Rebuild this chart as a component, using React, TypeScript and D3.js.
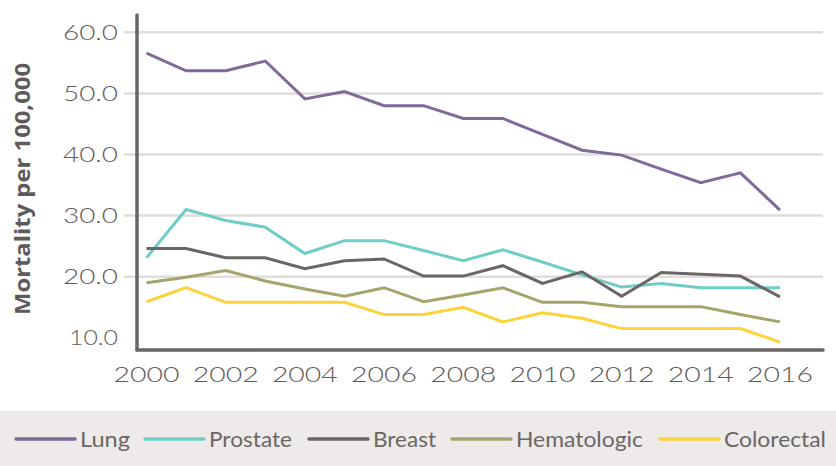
import React from 'react';
import * as d3 from 'd3';

// mortality per 100,000, 2000-2016
const years = d3.range(2000, 2017);
const lung = [56.6, 53.7, 53.7, 55.3, 49.1, 50.3, 48.0, 48.0, 45.9, 45.9, 43.3, 40.7, 39.9, 37.6, 35.4, 37.0, 30.9];
const prostate = [23.1, 31.0, 29.2, 28.1, 23.8, 25.9, 25.9, 24.3, 22.6, 24.4, 22.4, 20.3, 18.3, 18.9, 18.2, 18.2, 18.2];
const breast = [24.6, 24.6, 23.1, 23.1, 21.3, 22.6, 22.9, 20.1, 20.1, 21.8, 18.9, 20.8, 16.8, 20.7, 20.4, 20.1, 16.7];
const hematologic = [19.0, 19.9, 21.0, 19.3, 18.0, 16.8, 18.2, 15.9, 17.0, 18.2, 15.8, 15.8, 15.1, 15.1, 15.1, 13.8, 12.6];
const colorectal = [15.9, 18.2, 15.8, 15.8, 15.8, 15.8, 13.8, 13.8, 15.0, 12.6, 14.1, 13.2, 11.5, 11.5, 11.5, 11.5, 9.3];

const seriesNames = ['Lung', 'Prostate', 'Breast', 'Hematologic', 'Colorectal'];
const seriesValues = [lung, prostate, breast, hematologic, colorectal];
const colors = ['#7f6a9b', '#6fcdc8', '#6b6666', '#a4a56b', '#fdd23b'];
const yTicks = [10, 20, 30, 40, 50, 60];
const xTicks = [2000, 2002, 2004, 2006, 2008, 2010, 2012, 2014, 2016];

const W = 836;
const H = 466;
const axisX = 137;
const axisY = 350;

export default function App() {
  const x = d3.scaleLinear().domain([2000, 2016]).range([146.5, 780]);
  const y = d3.scaleLinear().domain([8, 63]).range([350, 14]);

  const line = d3.line<number>()
    .x((d, i) => x(years[i]))
    .y(d => y(d));

  const tickFont = 'Lato, "Open Sans", sans-serif';
  const legendPos = [16, 145, 309, 452, 660];
  const legendLen = [50, 83, 63, 127, 102];

  return (
    <svg width={W} height={H} style={{position: 'absolute', left: 0, top: 0}}>
      <rect x={0} y={0} width={W} height={H} fill="#ffffff" />

      {/* gridlines */}
      {yTicks.filter(t => t > 10).map(t => (
        <line key={t} x1={124} x2={823} y1={y(t)} y2={y(t)} stroke="#e0dcdc" strokeWidth={2.5} />
      ))}

      {/* y tick labels */}
      {yTicks.map(t => (
        <text key={t} x={t === 10 ? 69 : 63} y={y(t)} dy="0.35em" fontFamily={tickFont}
              textLength={t === 10 ? 49 : 55} lengthAdjust="spacingAndGlyphs"
              fontWeight={300} fontSize={22} fill="#5e5a5b">{d3.format('.1f')(t)}</text>
      ))}

      {/* x tick labels */}
      {xTicks.map(t => (
        <text key={t} x={x(t) - 33} y={374.5} dy="0.35em" fontFamily={tickFont}
              textLength={66} lengthAdjust="spacingAndGlyphs"
              fontWeight={300} fontSize={22} fill="#5e5a5b">{t}</text>
      ))}

      {/* series */}
      {seriesValues.map((vals, i) => (
        <path key={seriesNames[i]} d={line(vals) || ''} fill="none" stroke={colors[i]}
              strokeWidth={3} strokeLinejoin="miter" />
      ))}

      {/* axes */}
      <line x1={axisX} x2={axisX} y1={15} y2={axisY} stroke="#6b6666" strokeWidth={3.5} strokeLinecap="round" />
      <line x1={axisX} x2={823} y1={axisY} y2={axisY} stroke="#6b6666" strokeWidth={3.5} strokeLinecap="round" />

      {/* y axis title */}
      <text transform={`translate(22,${(63 + 315) / 2}) rotate(-90)`} textAnchor="middle" dy="0.35em"
            textLength={252} lengthAdjust="spacingAndGlyphs"
            fontFamily='"Open Sans", sans-serif' fontWeight={700} fontSize={22} fill="#5e5a5b">
        Mortality per 100,000
      </text>

      {/* legend */}
      <rect x={0} y={411} width={W} height={H - 411} fill="#eeeaea" />
      {seriesNames.map((name, i) => (
        <g key={name} transform={`translate(${legendPos[i]},439)`}>
          <line x1={0} x2={59} y1={0} y2={0} stroke={colors[i]} strokeWidth={3.5} strokeLinecap="round" />
          <text x={64} y={0} dy="0.35em" fontFamily={tickFont} fontWeight={400} fontSize={22}
                textLength={legendLen[i]} lengthAdjust="spacingAndGlyphs"
                fill="#6b6666">{name}</text>
        </g>
      ))}
    </svg>
  );
}
